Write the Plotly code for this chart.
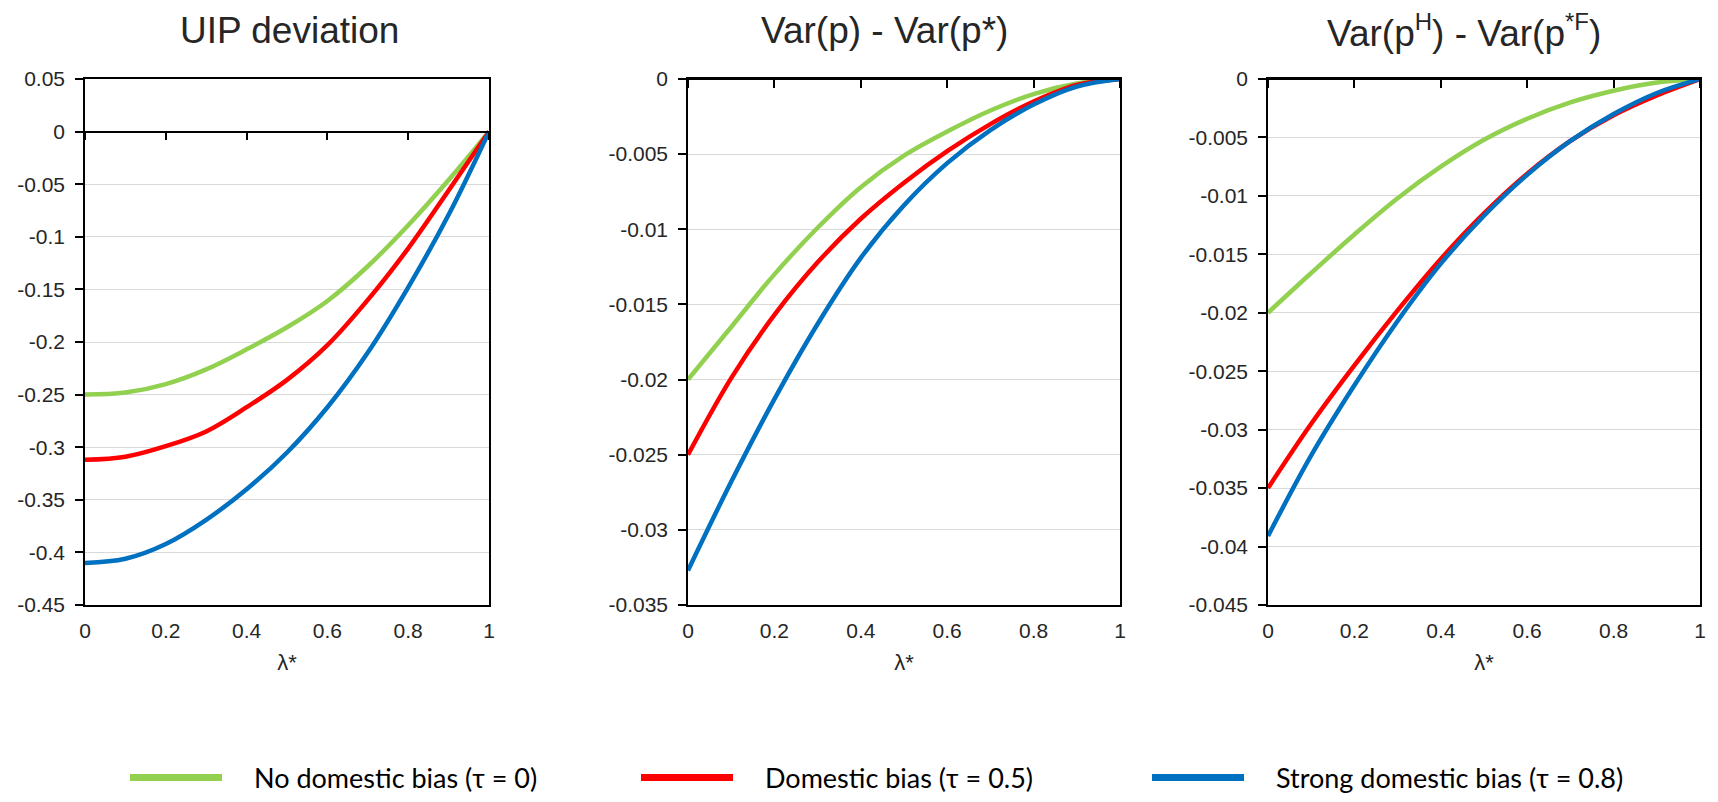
import plotly.graph_objects as go

# ---------------- data ----------------
lam = [0.0, 0.1, 0.2, 0.3, 0.4, 0.5, 0.6, 0.7, 0.8, 0.9, 1.0]

series_names = ["No domestic bias (τ = 0)", "Domestic bias (τ = 0.5)", "Strong domestic bias (τ = 0.8)"]
series_colors = ["#92D050", "#FF0000", "#0070C0"]

# Panel 1: UIP deviation
uip_none = [-0.250, -0.248, -0.240, -0.226, -0.207, -0.186, -0.161, -0.128, -0.089, -0.046, 0.0]
uip_dom = [-0.312, -0.309, -0.299, -0.285, -0.262, -0.236, -0.203, -0.160, -0.111, -0.056, 0.0]
uip_strong = [-0.410, -0.406, -0.392, -0.369, -0.340, -0.305, -0.262, -0.210, -0.148, -0.079, 0.0]

# Panel 2: Var(p) - Var(p*)
vp_none = [-0.0200, -0.0165, -0.0130, -0.0099, -0.0072, -0.0051, -0.0035, -0.0021, -0.0010, -0.0003, 0.0]
vp_dom = [-0.0250, -0.0199, -0.0157, -0.0122, -0.0093, -0.0069, -0.0048, -0.0030, -0.0015, -0.0004, 0.0]
vp_strong = [-0.0327, -0.0268, -0.0213, -0.0163, -0.0119, -0.0084, -0.0056, -0.0034, -0.0017, -0.0005, 0.0]

# Panel 3: Var(p^H) - Var(p*^F)
vh_none = [-0.0200, -0.0166, -0.0133, -0.0102, -0.0075, -0.0052, -0.0034, -0.0020, -0.0010, -0.0003, 0.0]
vh_dom = [-0.0350, -0.0295, -0.0245, -0.0198, -0.0154, -0.0115, -0.0081, -0.0053, -0.0031, -0.0014, 0.0]
vh_strong = [-0.0391, -0.0322, -0.0262, -0.0207, -0.0158, -0.0117, -0.0082, -0.0053, -0.0030, -0.0012, 0.0]

panel_titles = [
    "UIP deviation",
    "Var(p) - Var(p*)",
    "Var(p<sup><span style='font-size:24px'>H</span></sup>) - Var(p<sup><span style='font-size:24px'>*F</span></sup>)",
]
x_title = "λ*"

x_tickvals = [0, 0.2, 0.4, 0.6, 0.8, 1]
x_ticktext = ["0", "0.2", "0.4", "0.6", "0.8", "1"]

y1_tickvals = [0.05, 0, -0.05, -0.1, -0.15, -0.2, -0.25, -0.3, -0.35, -0.4, -0.45]
y1_ticktext = ["0.05", "0", "-0.05", "-0.1", "-0.15", "-0.2", "-0.25", "-0.3", "-0.35", "-0.4", "-0.45"]
y2_tickvals = [0, -0.005, -0.01, -0.015, -0.02, -0.025, -0.03, -0.035]
y2_ticktext = ["0", "-0.005", "-0.01", "-0.015", "-0.02", "-0.025", "-0.03", "-0.035"]
y3_tickvals = [0, -0.005, -0.01, -0.015, -0.02, -0.025, -0.03, -0.035, -0.04, -0.045]
y3_ticktext = ["0", "-0.005", "-0.01", "-0.015", "-0.02", "-0.025", "-0.03", "-0.035", "-0.04", "-0.045"]

# ---------------- layout geometry ----------------
# page body has an 8px margin; positions below are window pixels
OFF = 8
W, H = 1718 - 2 * OFF, 802 - 2 * OFF


def px(xw):
    return (xw - OFF) / W


def py(yw):
    return 1 - (yw - OFF) / H


x_domains = [[px(85), px(489)], [px(688), px(1120)], [px(1268), px(1700)]]
y_domain = [py(605), py(79)]
y_ranges = [[-0.45, 0.05], [-0.035, 0.0], [-0.045, 0.0]]
title_x = [px(289), px(885), px(1464)]

FONT = "Liberation Sans, Arial, sans-serif"
TXT = "#262626"

panels = [
    ([uip_none, uip_dom, uip_strong], y1_tickvals, y1_ticktext),
    ([vp_none, vp_dom, vp_strong], y2_tickvals, y2_ticktext),
    ([vh_none, vh_dom, vh_strong], y3_tickvals, y3_ticktext),
]

fig = go.Figure()
layout = dict(
    template="none",
    width=W, height=H,
    margin=dict(l=0, r=0, t=0, b=0, autoexpand=False),
    paper_bgcolor="white", plot_bgcolor="white",
    font=dict(family=FONT, color=TXT, size=21),
    annotations=[],
)

for i, (ys, tv, tt) in enumerate(panels):
    n = i + 1
    xa = "x" if n == 1 else f"x{n}"
    ya = "y" if n == 1 else f"y{n}"
    over_n = n + 3
    xo = f"x{over_n}"
    for s, (vals, col) in enumerate(zip(ys, series_colors)):
        fig.add_trace(go.Scatter(
            x=lam, y=vals, mode="lines", xaxis=xa, yaxis=ya,
            line=dict(color=col, width=4.5, shape="spline", smoothing=1.0),
            showlegend=False, hoverinfo="skip",
        ))
    # invisible helper trace on the zero-crossing axis
    fig.add_trace(go.Scatter(
        x=lam, y=ys[0], mode="lines", xaxis=xo, yaxis=ya,
        line=dict(width=0), opacity=0, showlegend=False, hoverinfo="skip",
    ))

    yr = y_ranges[i]
    zero_pos = y_domain[0] + (0 - yr[0]) / (yr[1] - yr[0]) * (y_domain[1] - y_domain[0])

    layout["xaxis" if n == 1 else f"xaxis{n}"] = dict(
        domain=x_domains[i], anchor=ya, range=[0, 1], automargin=False,
        tickvals=x_tickvals, ticktext=x_ticktext, ticks="",
        showline=True, linecolor="black", linewidth=1.5, mirror=True,
        showgrid=False, zeroline=False,
        tickfont=dict(size=21, color=TXT, family=FONT),
        ticklabelstandoff=6,
        title=dict(text=x_title, font=dict(size=22, color=TXT, family=FONT), standoff=14),
    )
    layout[f"xaxis{over_n}"] = dict(
        overlaying=xa, anchor="free", position=zero_pos, range=[0, 1], automargin=False,
        tickvals=x_tickvals, showticklabels=False,
        ticks="outside", ticklen=8, tickwidth=1.5, tickcolor="black",
        showline=True, linecolor="black", linewidth=1.5,
        showgrid=False, zeroline=False, side="bottom",
    )
    layout["yaxis" if n == 1 else f"yaxis{n}"] = dict(
        domain=y_domain, anchor=xa, range=yr, automargin=False,
        tickvals=tv, ticktext=tt,
        ticks="outside", ticklen=8, tickwidth=1.5, tickcolor="black",
        showline=True, linecolor="black", linewidth=1.5, mirror=True,
        showgrid=True, gridcolor="#d9d9d9", gridwidth=1.2, zeroline=False,
        tickfont=dict(size=21, color=TXT, family=FONT),
        ticklabelstandoff=6,
    )
    layout["annotations"].append(dict(
        text=panel_titles[i], x=title_x[i], y=py(31), xref="paper", yref="paper",
        xanchor="center", yanchor="middle", showarrow=False,
        font=dict(size=37, color=TXT, family=FONT),
    ))

# legend entries (en-spaces give the gap between swatch and label)
for name, col in zip(series_names, series_colors):
    fig.add_trace(go.Scatter(
        x=[None], y=[None], mode="lines", name="\u2002\u2002" + name,
        line=dict(color=col, width=7), showlegend=True,
    ))

layout["legend"] = dict(
    orientation="h", x=px(125), y=py(778), xanchor="left", yanchor="middle",
    font=dict(size=27, color="black", family="Lato, Open Sans, sans-serif"),
    entrywidth=404, entrywidthmode="pixels", itemwidth=92,
    bgcolor="rgba(0,0,0,0)",
)

fig.update_layout(**layout)
fig.write_html("out.html")
